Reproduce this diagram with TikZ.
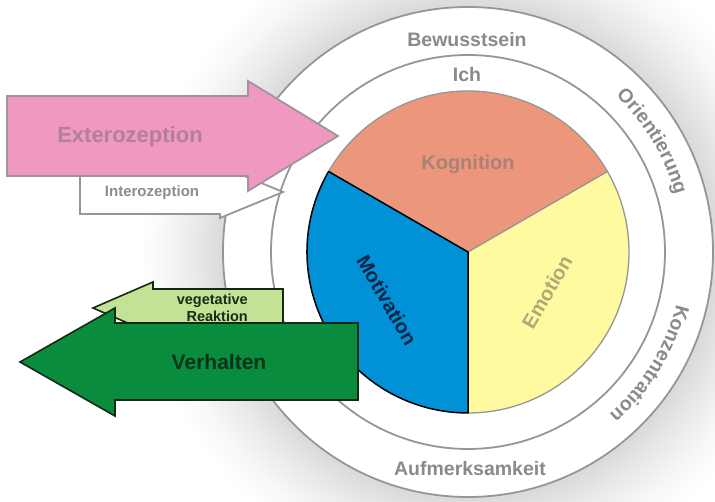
\documentclass[tikz,border=0pt]{standalone}
\usepackage{fontspec}
\setmainfont{Liberation Sans}
\usetikzlibrary{decorations.text}
\definecolor{ringgray}{RGB}{150,150,150}
\definecolor{ringtext}{RGB}{138,138,138}
\definecolor{pinkfill}{RGB}{239,153,192}
\definecolor{pinkline}{RGB}{160,148,155}
\definecolor{extext}{RGB}{178,128,155}
\definecolor{intext}{RGB}{140,140,140}
\definecolor{vegfill}{RGB}{196,226,150}
\definecolor{verhfill}{RGB}{10,140,62}
\definecolor{darkline}{RGB}{20,40,20}
\definecolor{vegtext}{RGB}{20,45,20}
\definecolor{verhtext}{RGB}{10,50,25}
\definecolor{kogfill}{RGB}{236,150,124}
\definecolor{kogtext}{RGB}{168,130,120}
\definecolor{motfill}{RGB}{0,145,215}
\definecolor{mottext}{RGB}{10,35,70}
\definecolor{emofill}{RGB}{255,249,160}
\definecolor{emotext}{RGB}{175,168,115}
\pgfdeclareradialshading{halo}{\pgfpoint{0bp}{0bp}}{color(0bp)=(black!15); color(18.5bp)=(black!15); color(20.5bp)=(black!9); color(23bp)=(black!3); color(25bp)=(white); color(50bp)=(white)}
\tikzset{
  ring/.style={draw=ringgray, line width=1.8pt},
  ringlbl/.style={text=ringtext, inner sep=0pt, font=\fontsize{19.5}{20}\selectfont\bfseries},
  % arc labels on the outer band
  arclbl/.style={decorate, decoration={text along path, text align=center,
      text={|\fontsize{19.5}{20}\selectfont\bfseries\color{ringtext}|#1}}},
  % pie sectors
  greysec/.style={draw=ringgray, line width=1.3pt, line join=round},
  blacksec/.style={draw=black, line width=1.5pt, line join=round},
  pielbl/.style={inner sep=0pt, font=\fontsize{20}{20}\selectfont\bfseries},
  % side arrows
  inarrow/.style={line width=1.8pt, line join=miter},
  outarrow/.style={draw=darkline, line width=1.6pt, line join=miter},
}
\begin{document}
\begin{tikzpicture}[x=1pt, y=1pt]
  \useasboundingbox (0,0) rectangle (715,502);
  \coordinate (O) at (468,250);

  % --- halo and the two rings ---
  \shade[shading=halo] (O) circle[radius=330];
  \filldraw[ring, fill=white] (O) circle[radius=245];
  \draw[ring] (O) circle[radius=197];

  % --- pie: Kognition / Motivation / Emotion ---
  \filldraw[greysec, fill=kogfill] (O) -- ++(30:161) arc[start angle=30, end angle=150, radius=161] -- cycle;
  \filldraw[greysec, fill=emofill] (O) -- ++(270:161) arc[start angle=270, end angle=390, radius=161] -- cycle;
  \filldraw[blacksec, fill=motfill] (O) -- ++(150:161) arc[start angle=150, end angle=270, radius=161] -- cycle;

  \node[pielbl, text=kogtext, anchor=base] (kognition) at (468,332) {Kognition};
  \node[pielbl, text=mottext, rotate=-60] (motivation) at (387,202) {Motivation};
  \node[pielbl, text=emotext, rotate=60] (emotion) at (547,210) {Emotion};

  % --- ring labels ---
  \node[ringlbl, anchor=base] (bewusstsein) at (467,455) {Bewusstsein};
  \node[ringlbl, anchor=base] (ich) at (467,420) {Ich};
  \node[ringlbl, anchor=base] (aufmerksamkeit) at (470,26) {Aufmerksamkeit};
  \path[arclbl=Orientierung] (O) ++(66:215) arc[start angle=66, end angle=-4, radius=215];
  \path[arclbl=Konzentration] (O) ++(4:215) arc[start angle=4, end angle=-67, radius=215];

  % --- incoming arrows ---
  \filldraw[inarrow, draw=ringgray, fill=white] (80,288) -- (80,332) -- (220,332) -- (220,336)
    -- (283,310) -- (220,284) -- (220,288) -- cycle;
  \filldraw[inarrow, draw=pinkline, fill=pinkfill] (7,326) -- (7,406) -- (248,406) -- (248,421)
    -- (338,366) -- (248,311) -- (248,326) -- cycle;
  \node[text=extext, anchor=base, font=\fontsize{22}{22}\selectfont\bfseries] (exterozeption) at (130,359) {Exterozeption};
  \node[text=intext, anchor=base, font=\fontsize{15}{15}\selectfont\bfseries] (interozeption) at (152,305) {Interozeption};

  % --- outgoing arrows ---
  \filldraw[outarrow, fill=vegfill] (283,175) -- (283,213) -- (153,213) -- (153,220)
    -- (93,194) -- (153,168) -- (153,175) -- cycle;
  \filldraw[outarrow, fill=verhfill] (358,102) -- (358,179) -- (115,179) -- (115,194)
    -- (20,140) -- (115,86) -- (115,102) -- cycle;
  \node[text=vegtext, align=right, anchor=east, inner sep=0pt,
    font=\fontsize{14.5}{17.5}\selectfont\bfseries] (reaktion) at (248,194) {vegetative\\Reaktion};
  \node[text=verhtext, anchor=base, font=\fontsize{21}{21}\selectfont\bfseries] (verhalten) at (219,132) {Verhalten};
\end{tikzpicture}
\end{document}
